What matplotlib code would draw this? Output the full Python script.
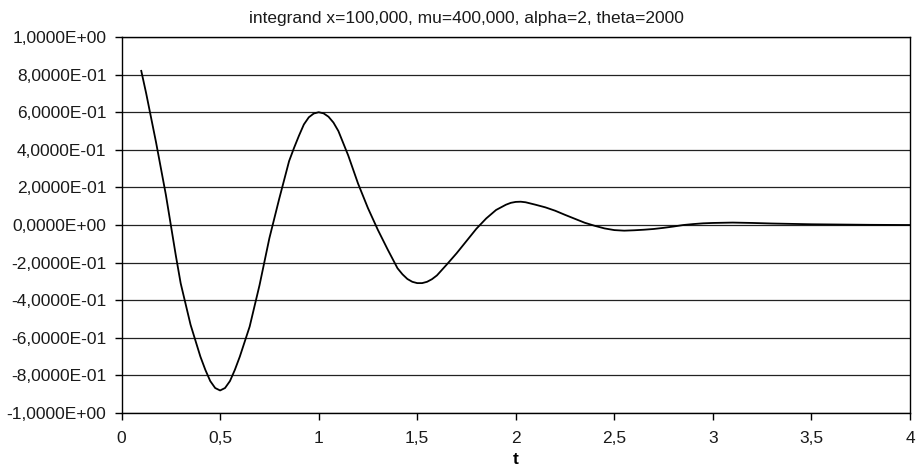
import matplotlib
matplotlib.use("Agg")
import matplotlib.pyplot as plt
from matplotlib.ticker import FuncFormatter, MultipleLocator

plt.rcParams['font.family'] = ['Liberation Sans', 'DejaVu Sans']

# values
t = [0.10, 0.125, 0.15, 0.175, 0.20, 0.225, 0.25, 0.275, 0.30, 0.35, 0.40, 0.425, 0.45, 0.475, 0.50,
     0.525, 0.55, 0.575, 0.60, 0.65, 0.70, 0.75, 0.80, 0.85, 0.875, 0.90, 0.925, 0.95, 0.975, 1.00,
     1.025, 1.05, 1.075, 1.10, 1.15, 1.20, 1.25, 1.30, 1.35, 1.40, 1.425, 1.45, 1.475, 1.50,
     1.525, 1.55, 1.575, 1.60, 1.65, 1.70, 1.75, 1.80, 1.85, 1.90, 1.95, 1.975, 2.00, 2.025,
     2.05, 2.10, 2.15, 2.20, 2.25, 2.30, 2.35, 2.40, 2.45, 2.50, 2.55,
     2.60, 2.65, 2.70, 2.75, 2.80, 2.85, 2.90, 2.95, 3.00, 3.05,
     3.10, 3.15, 3.20, 3.30, 3.40, 3.50, 3.60, 3.70, 3.80, 3.90, 4.00]
integrand = [0.82, 0.70, 0.57, 0.44, 0.30, 0.16, 0.0, -0.16, -0.31, -0.53, -0.70, -0.77, -0.83, -0.867, -0.88,
             -0.867, -0.83, -0.77, -0.70, -0.54, -0.32, -0.07, 0.14, 0.34, 0.41, 0.475, 0.535, 0.573, 0.593, 0.60,
             0.594, 0.576, 0.545, 0.50, 0.37, 0.22, 0.09, -0.025, -0.13, -0.23, -0.262, -0.287, -0.302, -0.309,
             -0.309, -0.302, -0.288, -0.268, -0.21, -0.15, -0.085, -0.02, 0.035, 0.08, 0.108, 0.118, 0.123, 0.124,
             0.121, 0.108, 0.094, 0.076, 0.054, 0.033, 0.012, -0.004, -0.018, -0.027, -0.03,
             -0.028, -0.025, -0.021, -0.015, -0.008, 0.0, 0.005, 0.009, 0.011, 0.012,
             0.013, 0.012, 0.011, 0.008, 0.006, 0.004, 0.003, 0.002, 0.001, 0.0005, 0.0]

title = 'integrand x=100,000, mu=400,000, alpha=2, theta=2000'


def sci_comma(v, pos):
    v = round(v, 8)
    if v == 0:
        v = 0.0
    return f'{v:.4E}'.replace('.', ',')


fig = plt.figure(figsize=(9.18, 4.71), dpi=100)
ax = fig.add_axes([0.1324, 0.1231, 0.8589, 0.7983])

ax.plot(t, integrand, color='black', linewidth=1.3)

ax.set_xlim(0, 4)
ax.set_ylim(-1, 1)
ax.xaxis.set_major_locator(MultipleLocator(0.5))
ax.yaxis.set_major_locator(MultipleLocator(0.2))
ax.yaxis.set_major_formatter(FuncFormatter(sci_comma))
ax.xaxis.set_major_formatter(FuncFormatter(lambda v, p: f'{v:g}'.replace('.', ',')))

ax.grid(axis='y', color='#222222', linewidth=0.9)
ax.set_axisbelow(True)
for s in ax.spines.values():
    s.set_color('black')
    s.set_linewidth(1.0)

ax.tick_params(axis='both', direction='out', length=5, width=1, color='black',
               labelsize=12.5, labelcolor='#1a1a1a')
ax.tick_params(axis='y', pad=6)
ax.tick_params(axis='x', pad=8)

ax.set_xlabel('t', fontsize=12.5, fontweight='bold', labelpad=4)
fig.text(466 / 918, 1 - 23 / 471, title, ha='center', va='baseline',
         fontsize=12.5, color='#1a1a1a')

fig.savefig('out.png', dpi=100)
